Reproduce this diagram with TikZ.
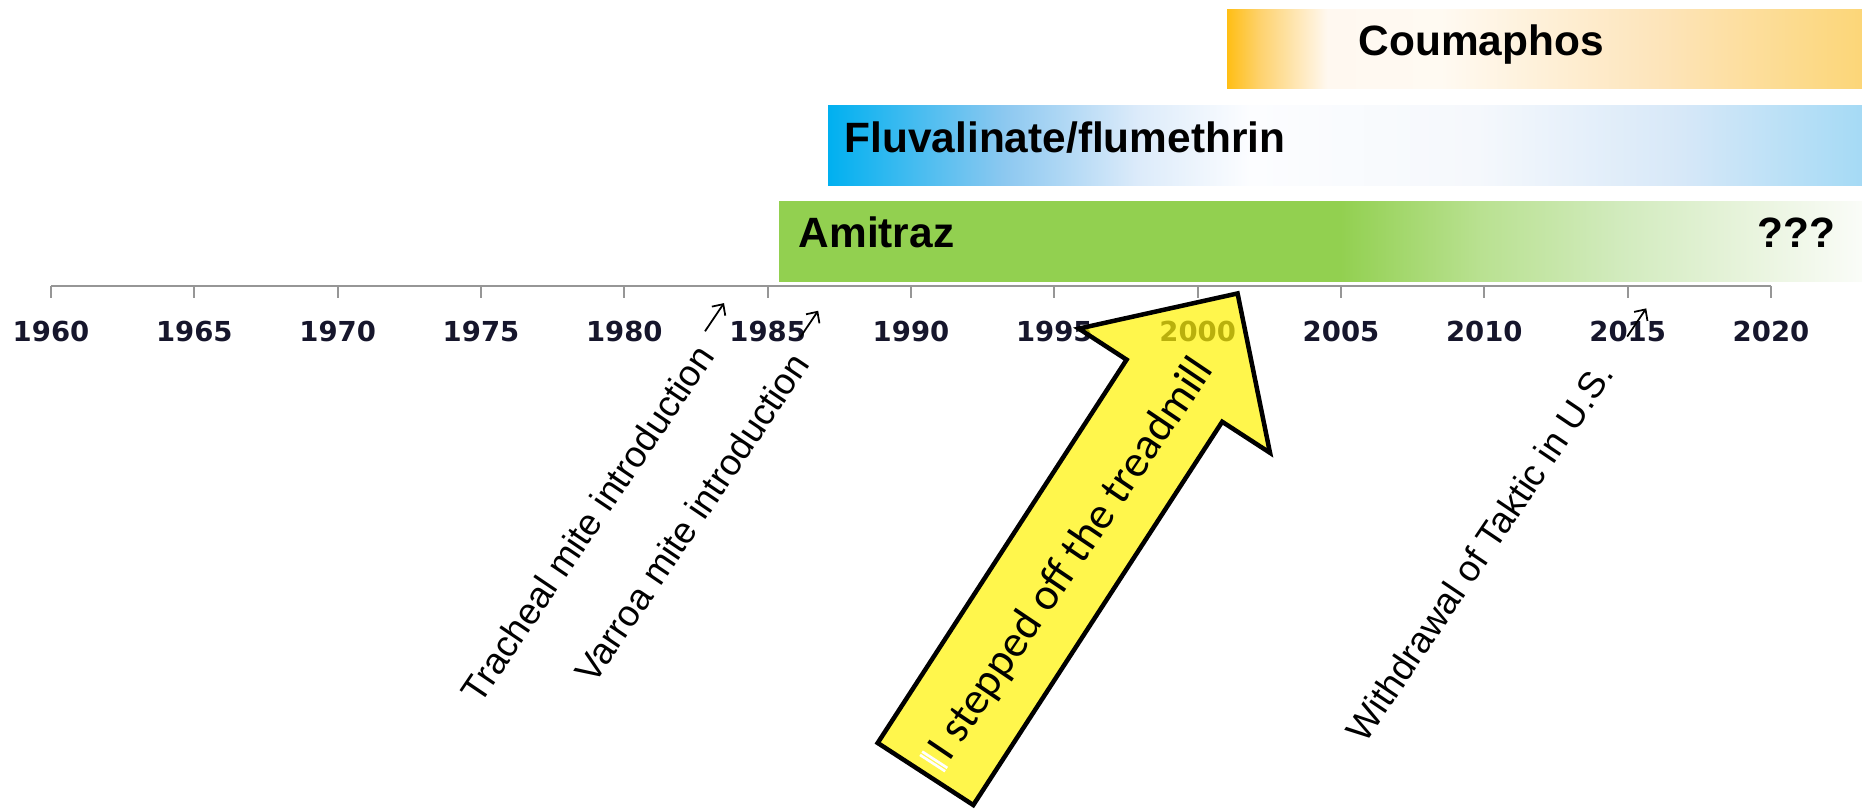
\documentclass[tikz,border=0pt]{standalone}
\usepackage{fontspec}
\usetikzlibrary{arrows.meta}
\setmainfont{Liberation Sans}
\newfontfamily\yearfont{DejaVu Sans}
\newfontfamily\calibrifont{Carlito}

% bar colours
\definecolor{amiA}{RGB}{146,208,80}
\definecolor{amiB}{RGB}{185,225,145}
\definecolor{amiC}{RGB}{210,235,190}
\definecolor{amiD}{RGB}{235,245,225}
\definecolor{amiE}{RGB}{250,252,248}
\definecolor{fluA}{RGB}{0,176,240}
\definecolor{fluB}{RGB}{140,200,240}
\definecolor{fluC}{RGB}{220,235,250}
\definecolor{fluD}{RGB}{252,253,255}
\definecolor{fluE}{RGB}{245,248,252}
\definecolor{fluF}{RGB}{215,232,248}
\definecolor{fluG}{RGB}{165,218,245}
\definecolor{couA}{RGB}{255,190,20}
\definecolor{couB}{RGB}{254,210,110}
\definecolor{couC}{RGB}{255,248,240}
\definecolor{couD}{RGB}{255,250,242}
\definecolor{couE}{RGB}{253,228,185}
\definecolor{couF}{RGB}{252,214,120}
\definecolor{yearnavy}{RGB}{22,22,44}
\definecolor{axisgray}{RGB}{150,150,150}

% horizontal fades; the path box spans 25bp..75bp
\pgfdeclarehorizontalshading{amitrazfade}{100bp}{color(0bp)=(amiA); color(25bp)=(amiA); color(50.9bp)=(amiA); color(57.4bp)=(amiB); color(63.9bp)=(amiC); color(70.6bp)=(amiD); color(75bp)=(amiE); color(100bp)=(amiE)}
\pgfdeclarehorizontalshading{fluvfade}{100bp}{color(0bp)=(fluA); color(25bp)=(fluA); color(33.5bp)=(fluB); color(40bp)=(fluC); color(45.4bp)=(fluD); color(56.4bp)=(fluE); color(66.2bp)=(fluF); color(75bp)=(fluG); color(100bp)=(fluG)}
\pgfdeclarehorizontalshading{coumfade}{100bp}{color(0bp)=(couA); color(25bp)=(couA); color(27.6bp)=(couB); color(32.9bp)=(couC); color(41.8bp)=(couD); color(59.4bp)=(couE); color(75bp)=(couF); color(100bp)=(couF)}

\tikzset{
  barlabel/.style={font=\bfseries\fontsize{12.06pt}{14pt}\selectfont, inner sep=0pt, anchor=base west},
  yearlabel/.style={font=\yearfont\bfseries\fontsize{7.82pt}{9pt}\selectfont, text=yearnavy, inner sep=0pt, anchor=base},
  annot/.style={font=\fontsize{10.44pt}{12pt}\selectfont, inner sep=0pt, anchor=base west, rotate=56},
  pointer/.style={draw=black, line width=0.5pt, -{Straight Barb[length=2.4pt, width=4.6pt]}},
  axisline/.style={draw=axisgray, line width=0.7pt},
  tickline/.style={draw=axisgray, line width=0.6pt},
  bigarrow/.style={fill=yellow, fill opacity=0.7, draw=black, line width=1.28pt, line join=miter},
  arrowtext/.style={font=\calibrifont\fontsize{12.75pt}{15pt}\selectfont, inner sep=0pt, anchor=base west, rotate=56},
  whitemark/.style={draw=white, line width=0.75pt},
}

\begin{document}
\begin{tikzpicture}[x=0.01cm, y=-0.01cm]
  \useasboundingbox (0,0) rectangle (1862,810);

  % treatment bars
  \shade[shading=coumfade] (1227,10) rectangle (1862,89);
  \shade[shading=fluvfade] (828,106) rectangle (1862,186);
  \shade[shading=amitrazfade] (779,202) rectangle (1862,282);

  \node[barlabel] (coumaphos) at (1358,56) {Coumaphos};
  \node[barlabel] (fluvalinate) at (844,153) {Fluvalinate/flumethrin};
  \node[barlabel] (amitraz) at (798,248) {Amitraz};
  \node[barlabel, anchor=base east] (unknown) at (1836,248) {???};

  % time axis
  \draw[axisline] (51,286) -- (1771,286);
  \foreach \yr in {1960,1965,...,2020} {
    \pgfmathsetmacro{\xx}{51+(\yr-1960)*28.6667}
    \draw[tickline] (\xx,286) -- (\xx,298);
    \node[yearlabel] (y\yr) at (\xx,342) {\yr};
  }

  % events, each followed by a small pointer along its line
  \node[annot] (tracheal) at (480,706) {Tracheal mite introduction};
  \node[annot] (varroa) at (594,686) {Varroa mite introduction};
  \node[annot] (taktic) at (1365,745) {Withdrawal of Taktic in U.S.};

  \begin{scope}[shift={(tracheal.base east)}, rotate=56]
    \coordinate (trA) at (14,-23);
    \coordinate (trB) at (48,-23);
  \end{scope}
  \begin{scope}[shift={(varroa.base east)}, rotate=56]
    \coordinate (vaA) at (16,-24);
    \coordinate (vaB) at (48,-24);
  \end{scope}
  \begin{scope}[shift={(taktic.base east)}, rotate=56]
    \coordinate (taA) at (37,-11);
    \coordinate (taB) at (71,-11);
  \end{scope}
  \draw[pointer] (trA) -- (trB);
  \draw[pointer] (vaA) -- (vaB);
  \draw[pointer] (taA) -- (taB);

  % block arrow
  \begin{scope}[shift={(925.5,774)}, rotate=57]
    \draw[bigarrow] (0,-57) -- (457,-57) -- (457,-114) -- (573,0)
      -- (457,114) -- (457,57) -- (0,57) -- cycle;
    \draw[whitemark] (13,-15) -- (13,15);
    \draw[whitemark] (17,-15) -- (17,15);
    \node[arrowtext] (treadmill) at (22,14) {I stepped off the treadmill};
  \end{scope}
\end{tikzpicture}
\end{document}
